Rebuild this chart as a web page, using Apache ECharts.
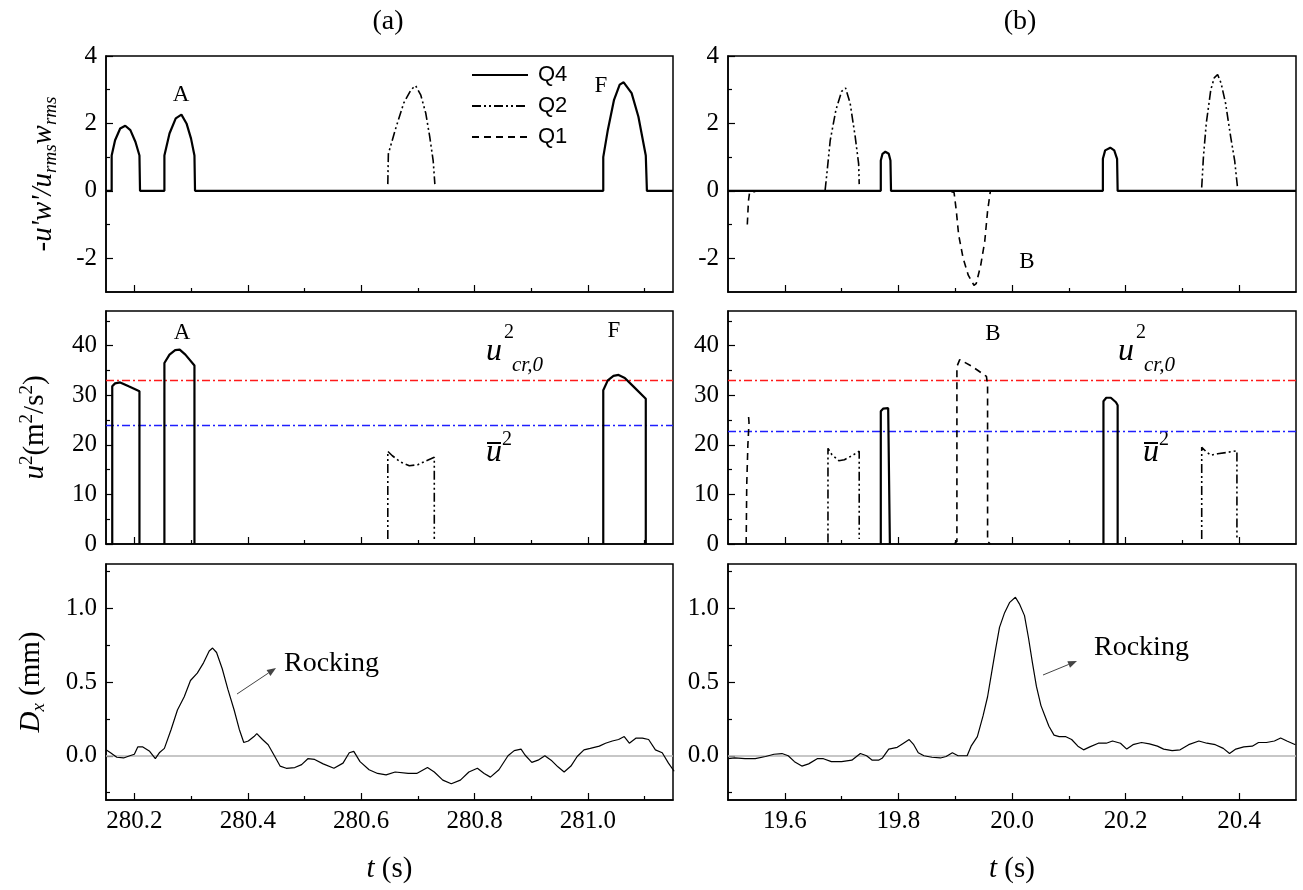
<!DOCTYPE html>
<html>
<head>
<meta charset="utf-8">
<script src="https://cdn.jsdelivr.net/npm/echarts@6/dist/echarts.min.js"></script>
<style>
html, body { margin: 0; padding: 0; background: #fff; }
#main { width: 1303px; height: 890px; }
</style>
</head>
<body>
<div id="main"></div>
<script>
// ---- data ----
const BRK = ['-', '-'];
// time ticks
const ticksA = [280.2, 280.4, 280.6, 280.8, 281.0];
const minorA = [280.3, 280.5, 280.7, 280.9, 281.1];
const ticksB = [19.6, 19.8, 20.0, 20.2, 20.4];
const minorB = [19.7, 19.9, 20.1, 20.3];
const fluxTicks = [-2, 0, 2, 4];
const fluxMinor = [-1, 1, 3];
const u2Ticks = [0, 10, 20, 30, 40];
const u2Minor = [5, 15, 25, 35, 45];
const dxTicks = [0, 0.5, 1.0];
const dxMinor = [-0.25, 0.25, 0.75, 1.25];

// -u'w'/(urms wrms), panel (a)
const q4FluxA = [[280.15, 0], [280.160, 0], [280.160, 1.05], [280.166, 1.5], [280.175, 1.85], [280.184, 1.93], [280.193, 1.8], [280.202, 1.45], [280.209, 1.05], [280.210, 0],
  [280.253, 0], [280.253, 1.05], [280.262, 1.7], [280.273, 2.15], [280.283, 2.26], [280.292, 2.0], [280.300, 1.55], [280.306, 1.05], [280.307, 0],
  [281.027, 0], [281.027, 1.0], [281.035, 1.8], [281.046, 2.7], [281.056, 3.15], [281.063, 3.22], [281.077, 2.9], [281.089, 2.2], [281.102, 1.05], [281.104, 0], [281.15, 0]];
const q2FluxA = [[280.647, 0.2], [280.648, 1.1], [280.660, 1.8], [280.675, 2.6], [280.688, 3.0], [280.696, 3.12], [280.705, 2.85], [280.714, 2.3], [280.721, 1.6], [280.727, 0.9], [280.730, 0.2]];
// panel (b)
const q4FluxB = [[19.5, 0], [19.769, 0], [19.769, 0.9], [19.772, 1.1], [19.777, 1.16], [19.783, 1.1], [19.786, 0.9], [19.787, 0],
  [20.160, 0], [20.160, 0.95], [20.164, 1.2], [20.173, 1.28], [20.180, 1.2], [20.185, 0.95], [20.186, 0], [20.5, 0]];
const q2FluxB = [[19.671, 0.02], [19.674, 0.5], [19.680, 1.5], [19.690, 2.4], [19.700, 2.95], [19.707, 3.05], [19.715, 2.6], [19.724, 1.6], [19.730, 0.8], [19.731, 0.2], BRK,
  [20.334, 0.1], [20.337, 1.0], [20.342, 2.0], [20.350, 3.0], [20.356, 3.35], [20.362, 3.45], [20.368, 3.2], [20.376, 2.6], [20.385, 1.6], [20.392, 0.9], [20.397, 0.1]];
const q1FluxB = [[19.534, -1.0], [19.536, -0.3], [19.538, -0.05], [19.548, -0.02], BRK,
  [19.893, -0.02], [19.898, -0.05], [19.902, -0.6], [19.906, -1.3], [19.914, -2.0], [19.923, -2.5], [19.933, -2.8], [19.937, -2.75], [19.945, -2.2], [19.952, -1.5], [19.957, -0.6], [19.962, 0]];

// u^2 (m^2/s^2), panel (a)
const q4U2A = [[280.161, 0], [280.161, 31.8], [280.166, 32.4], [280.175, 32.6], [280.190, 31.8], [280.209, 30.8], [280.209, 0], BRK,
  [280.253, 0], [280.253, 36.5], [280.262, 38.2], [280.272, 39.1], [280.280, 39.2], [280.290, 38.2], [280.306, 36.0], [280.306, 0], BRK,
  [281.027, 0], [281.027, 31.0], [281.035, 33.0], [281.045, 33.9], [281.054, 34.1], [281.065, 33.5], [281.080, 31.8], [281.102, 29.3], [281.102, 0]];
const q2U2A = [[280.647, 1], [280.647, 18.7], [280.655, 17.8], [280.670, 16.5], [280.685, 15.8], [280.700, 16.0], [280.715, 16.8], [280.729, 17.5], [280.729, 1]];
const u2CritA = 33;
const u2MeanA = 24;
// panel (b)
const q4U2B = [[19.769, 0], [19.769, 26.8], [19.773, 27.3], [19.782, 27.4], [19.785, 27.0], [19.785, 0], BRK,
  [20.161, 0], [20.161, 28.8], [20.166, 29.5], [20.174, 29.5], [20.183, 28.6], [20.186, 28.0], [20.186, 0]];
const q2U2B = [[19.676, 0.3], [19.676, 19.3], [19.683, 18.0], [19.695, 16.8], [19.705, 17.0], [19.718, 17.8], [19.731, 18.7], [19.731, 1.0], BRK,
  [20.334, 1], [20.334, 19.5], [20.342, 18.6], [20.350, 17.9], [20.362, 18.2], [20.380, 18.5], [20.396, 18.8], [20.396, 1]];
const q1U2B = [[19.532, 0], [19.533, 12], [19.535, 20], [19.537, 24.5], [19.536, 26], BRK,
  [19.898, 0], [19.903, 0.5], [19.903, 35.8], [19.908, 37.2], [19.930, 35.8], [19.955, 33.8], [19.957, 32], [19.957, 0.5], [19.962, 0]];
const u2CritB = 33;
const u2MeanB = 22.7;

// Dx (mm)
const dxA = [[280.150, 0.04], [280.158, 0.02], [280.169, -0.01], [280.181, -0.015], [280.192, 0.0], [280.200, 0.01], [280.206, 0.06], [280.215, 0.06],
  [280.227, 0.03], [280.237, -0.02], [280.244, 0.02], [280.253, 0.05], [280.265, 0.18], [280.276, 0.31], [280.288, 0.40], [280.299, 0.51],
  [280.311, 0.56], [280.322, 0.63], [280.332, 0.71], [280.338, 0.73], [280.345, 0.70], [280.355, 0.59], [280.365, 0.45], [280.376, 0.31],
  [280.385, 0.18], [280.393, 0.09], [280.401, 0.10], [280.411, 0.13], [280.416, 0.15], [280.426, 0.11], [280.436, 0.075], [280.447, 0.0],
  [280.457, -0.07], [280.468, -0.085], [280.483, -0.08], [280.495, -0.06], [280.506, -0.02], [280.518, -0.025], [280.533, -0.055], [280.552, -0.085],
  [280.568, -0.05], [280.579, 0.02], [280.587, 0.03], [280.598, -0.04], [280.614, -0.095], [280.629, -0.12], [280.644, -0.13], [280.660, -0.11],
  [280.683, -0.12], [280.698, -0.12], [280.717, -0.08], [280.729, -0.11], [280.744, -0.165], [280.759, -0.19], [280.775, -0.165], [280.790, -0.11],
  [280.805, -0.085], [280.817, -0.12], [280.828, -0.145], [280.843, -0.095], [280.859, 0.0], [280.870, 0.035], [280.882, 0.045], [280.889, 0.005],
  [280.901, -0.045], [280.912, -0.03], [280.924, 0.0], [280.935, -0.03], [280.947, -0.075], [280.958, -0.11], [280.970, -0.07], [280.981, -0.005],
  [280.993, 0.04], [281.004, 0.05], [281.020, 0.065], [281.031, 0.085], [281.043, 0.1], [281.054, 0.11], [281.064, 0.13], [281.073, 0.085],
  [281.085, 0.12], [281.096, 0.12], [281.107, 0.11], [281.119, 0.04], [281.131, 0.02], [281.142, -0.05], [281.152, -0.105]];
const dxB = [[19.500, -0.02], [19.512, -0.015], [19.530, -0.02], [19.548, -0.02], [19.566, -0.005], [19.581, 0.01], [19.595, 0.015], [19.606, 0.0],
  [19.617, -0.04], [19.630, -0.07], [19.642, -0.055], [19.657, -0.02], [19.668, -0.02], [19.682, -0.04], [19.700, -0.04], [19.718, -0.03],
  [19.733, 0.015], [19.744, 0.0], [19.754, -0.03], [19.765, -0.03], [19.772, -0.015], [19.783, 0.045], [19.798, 0.057], [19.809, 0.085],
  [19.819, 0.11], [19.827, 0.075], [19.835, 0.02], [19.845, 0.0], [19.859, -0.01], [19.874, -0.015], [19.884, -0.005], [19.895, 0.02],
  [19.905, 0.0], [19.921, 0.0], [19.928, 0.065], [19.939, 0.13], [19.949, 0.27], [19.957, 0.40], [19.964, 0.56], [19.971, 0.72],
  [19.978, 0.87], [19.987, 0.97], [19.996, 1.04], [20.006, 1.075], [20.013, 1.03], [20.022, 0.95], [20.029, 0.80], [20.036, 0.63],
  [20.043, 0.47], [20.051, 0.34], [20.058, 0.27], [20.065, 0.20], [20.074, 0.14], [20.083, 0.13], [20.094, 0.13], [20.105, 0.11],
  [20.116, 0.065], [20.126, 0.04], [20.137, 0.06], [20.152, 0.085], [20.166, 0.085], [20.177, 0.10], [20.191, 0.085], [20.202, 0.045],
  [20.213, 0.075], [20.228, 0.09], [20.242, 0.08], [20.256, 0.065], [20.267, 0.045], [20.282, 0.035], [20.296, 0.04], [20.311, 0.075],
  [20.329, 0.10], [20.343, 0.085], [20.358, 0.075], [20.372, 0.05], [20.383, 0.015], [20.394, 0.045], [20.408, 0.06], [20.423, 0.065],
  [20.434, 0.09], [20.448, 0.09], [20.462, 0.10], [20.473, 0.12], [20.484, 0.10], [20.499, 0.075]];

// ---- layout / style ----
const SERIF = '"Liberation Serif", "Times New Roman", serif';
const SANS = '"Liberation Sans", Arial, sans-serif';
const COLS = [{ left: 106, width: 567, range: [280.15, 281.15], ticks: ticksA, minor: minorA },
              { left: 728, width: 568, range: [19.5, 20.5], ticks: ticksB, minor: minorB }];
const ROWS = [{ top: 56, height: 236, range: [-3, 4], ticks: fluxTicks, minor: fluxMinor, fmt: v => String(v) },
              { top: 311, height: 233, range: [0, 47], ticks: u2Ticks, minor: u2Minor, fmt: v => String(v) },
              { top: 564, height: 236, range: [-0.3, 1.3], ticks: dxTicks, minor: dxMinor, fmt: v => v.toFixed(1) }];

const Q4 = { color: '#000', width: 2.2, type: 'solid' };
const Q2 = { color: '#000', width: 1.6, type: [9, 3, 2, 3, 2, 3] };
const Q1 = { color: '#000', width: 1.6, type: [7, 5] };

const richText = {
  i: { fontFamily: SERIF, fontStyle: 'italic', fontSize: 29, lineHeight: 34, color: '#000' },
  n: { fontFamily: SERIF, fontSize: 29, lineHeight: 34, color: '#000' },
  s: { fontFamily: SERIF, fontStyle: 'italic', fontSize: 19, lineHeight: 11, verticalAlign: 'bottom', color: '#000' },
  p: { fontFamily: SERIF, fontSize: 19, lineHeight: 17, verticalAlign: 'top', color: '#000' }
};
const yNames = ["{i|-u'w'/u}{s|rms}{i|w}{s|rms}", '{i|u}{p|2}{n|(m}{p|2}{n|/s}{p|2}{n|)}', '{i|D}{s|x}{n| (mm)}'];
const yGaps = [46, 54, 58];

const grids = [], xAxes = [], yAxes = [];
ROWS.forEach((r, ri) => {
  COLS.forEach((c, ci) => {
    const g = ri * 2 + ci;
    grids.push({ left: c.left, top: r.top, width: c.width, height: r.height, show: true,
      borderColor: '#000', borderWidth: 1.5, backgroundColor: 'transparent' });
    const lastRow = ri === ROWS.length - 1;
    xAxes.push({
      type: 'value', gridIndex: g, min: c.range[0], max: c.range[1], position: 'bottom',
      axisLine: { show: true, onZero: false, lineStyle: { color: '#000', width: 1.5 } },
      axisTick: { show: true, inside: true, length: 7, customValues: c.ticks, lineStyle: { color: '#000', width: 1.2 } },
      axisLabel: { show: lastRow, customValues: c.ticks, formatter: v => v.toFixed(1),
        fontFamily: SERIF, fontSize: 25, color: '#000', margin: 9 },
      splitLine: { show: false },
      name: lastRow ? '{i|t}{n| (s)}' : '', nameLocation: 'middle', nameGap: 52,
      nameTextStyle: { rich: richText }
    }, {
      type: 'value', gridIndex: g, min: c.range[0], max: c.range[1], position: 'bottom',
      axisLine: { show: false, onZero: false },
      axisTick: { show: true, inside: true, length: 4, customValues: c.minor, lineStyle: { color: '#000', width: 1.2 } },
      axisLabel: { show: false }, splitLine: { show: false }
    });
    yAxes.push({
      type: 'value', gridIndex: g, min: r.range[0], max: r.range[1], position: 'left',
      axisLine: { show: true, onZero: false, lineStyle: { color: '#000', width: 1.5 } },
      axisTick: { show: true, inside: true, length: 7, customValues: r.ticks, lineStyle: { color: '#000', width: 1.2 } },
      axisLabel: { show: true, customValues: r.ticks, formatter: r.fmt,
        fontFamily: SERIF, fontSize: 25, color: '#000', margin: 9 },
      splitLine: { show: false },
      name: ci === 0 ? yNames[ri] : '', nameLocation: 'middle', nameRotate: 90, nameGap: yGaps[ri],
      nameTextStyle: { rich: richText }
    }, {
      type: 'value', gridIndex: g, min: r.range[0], max: r.range[1], position: 'left',
      axisLine: { show: false, onZero: false },
      axisTick: { show: true, inside: true, length: 4, customValues: r.minor, lineStyle: { color: '#000', width: 1.2 } },
      axisLabel: { show: false }, splitLine: { show: false }
    });
  });
});

function line(name, g, data, style, extra) {
  return Object.assign({
    type: 'line', name: name, xAxisIndex: 2 * g, yAxisIndex: 2 * g, data: data,
    symbol: 'none', showSymbol: false, silent: true, connectNulls: false,
    itemStyle: { color: '#000' }, lineStyle: style, z: 2
  }, extra || {});
}
function refLines(crit, mean) {
  const dashDot = [8, 3, 2, 3];
  return {
    silent: true, symbol: 'none', label: { show: false }, z: 1,
    data: [
      { yAxis: crit, lineStyle: { color: '#ff1a1a', width: 1.4, type: dashDot } },
      { yAxis: mean, lineStyle: { color: '#1f1fff', width: 1.4, type: dashDot } }
    ]
  };
}
const zeroLine = {
  silent: true, symbol: 'none', label: { show: false }, z: 1,
  data: [{ yAxis: 0, lineStyle: { color: '#b4b4b4', width: 1.6, type: 'solid' } }]
};

const series = [
  line('Q4', 0, q4FluxA, Q4),
  line('Q2', 0, q2FluxA, Q2),
  line('Q4', 1, q4FluxB, Q4),
  line('Q2', 1, q2FluxB, Q2),
  line('Q1', 1, q1FluxB, Q1),
  line('Q4', 2, q4U2A, Q4, { markLine: refLines(u2CritA, u2MeanA) }),
  line('Q2', 2, q2U2A, Q2),
  line('Q4', 3, q4U2B, Q4, { markLine: refLines(u2CritB, u2MeanB) }),
  line('Q2', 3, q2U2B, Q2),
  line('Q1', 3, q1U2B, Q1),
  line('Dx', 4, dxA, { color: '#000', width: 1.2 }, { markLine: zeroLine }),
  line('Dx', 5, dxB, { color: '#000', width: 1.2 }, { markLine: zeroLine })
];

// ---- annotations ----
function txt(x, y, text, size, italic, align) {
  return { type: 'text', x: x, y: y, silent: true,
    style: { text: text, font: (italic ? 'italic ' : '') + size + 'px ' + SERIF, fill: '#000',
      textAlign: align || 'left', textVerticalAlign: 'middle' } };
}
function arrow(x1, y1, x2, y2) {
  const a = Math.atan2(y2 - y1, x2 - x1), L = 9, W = 3.5;
  const bx = x2 - L * Math.cos(a), by = y2 - L * Math.sin(a);
  return [
    { type: 'line', silent: true, shape: { x1: x1, y1: y1, x2: bx, y2: by }, style: { stroke: '#444', lineWidth: 1 } },
    { type: 'polygon', silent: true, shape: { points: [[x2, y2], [bx + W * Math.sin(a), by - W * Math.cos(a)], [bx - W * Math.sin(a), by + W * Math.cos(a)]] },
      style: { fill: '#444' } }
  ];
}
function uCrit(x) {
  return [txt(x, 352, 'u', 32, true), txt(x + 18, 333, '2', 20), txt(x + 26, 365, 'cr,0', 21, true)];
}
function uMean(x) {
  return [
    { type: 'line', silent: true, shape: { x1: x + 1, y1: 443, x2: x + 15, y2: 443 }, style: { stroke: '#000', lineWidth: 2 } },
    txt(x, 453, 'u', 32, true), txt(x + 16, 440, '2', 20)
  ];
}
const graphics = [].concat(
  [txt(181, 95, 'A', 23, false, 'center'), txt(601, 86, 'F', 23, false, 'center'), txt(1027, 262, 'B', 23, false, 'center'),
   txt(182, 333, 'A', 23, false, 'center'), txt(614, 331, 'F', 23, false, 'center'), txt(993, 334, 'B', 23, false, 'center'),
   txt(284, 664, 'Rocking', 28), txt(1094, 648, 'Rocking', 28)],
  uCrit(486), uCrit(1118), uMean(486), uMean(1143),
  arrow(237, 694, 276, 668), arrow(1043, 675, 1077, 661)
);

const chart = echarts.init(document.getElementById('main'));
chart.setOption({
  animation: false,
  backgroundColor: '#fff',
  title: [
    { text: '(a)', left: 388, top: 8, textAlign: 'center', padding: 0, textStyle: { fontFamily: SERIF, fontSize: 28, fontWeight: 'normal', color: '#000' } },
    { text: '(b)', left: 1020, top: 8, textAlign: 'center', padding: 0, textStyle: { fontFamily: SERIF, fontSize: 28, fontWeight: 'normal', color: '#000' } }
  ],
  legend: {
    data: ['Q4', 'Q2', 'Q1'], orient: 'vertical', left: 471, top: 64, itemGap: 9,
    itemWidth: 56, itemHeight: 22, padding: 0, selectedMode: false,
    itemStyle: { opacity: 0 },
    textStyle: { fontFamily: SANS, fontSize: 22, color: '#000', padding: [0, 0, 0, 5] }
  },
  grid: grids,
  xAxis: xAxes,
  yAxis: yAxes,
  series: series,
  graphic: graphics
});
window.addEventListener('resize', () => chart.resize());
</script>
</body>
</html>
